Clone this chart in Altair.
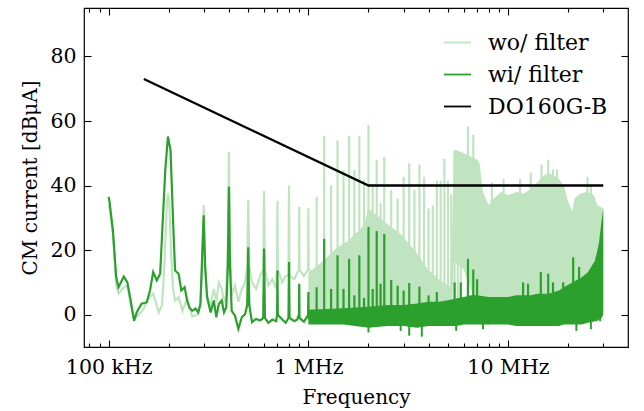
import altair as alt
import pandas as pd

FONT = "DejaVu Serif"
FS_LAB = 20.5
FS_TIT = 20
FS_LEG = 22
LIGHT = "#c0e3c0"
GREEN = "#2ca02c"

# ---- low-frequency traces (frequency in kHz, level in dBuA) ----
lo_f_wo = [100, 101, 105, 109, 112, 119, 124, 128, 134, 138, 145, 150, 155, 160, 167,
           172, 178, 185, 190, 195, 198, 201, 205, 210, 215, 224, 234, 247, 255, 262,
           278, 288, 294, 299, 304, 311, 324, 336, 346, 356, 368, 378, 388, 395, 400,
           405, 413, 429, 446, 464, 482, 494, 500, 506, 522, 547, 573, 594, 600, 606,
           630, 660, 690, 697, 700, 703, 740, 770, 795, 800, 805, 850, 880, 897, 900,
           903, 950, 997, 1000, 1003, 1050]
lo_v_wo = [34, 33, 25, 9, 6.5, 8.5, 9, 4, -1.5, -0.5, 0.7, 2, 4, 5.5, 6.5,
           4, 0.7, 3, 15, 33, 37.6, 35, 20, 8, 4.4, 5.4, 1.2, 5, 2, -0.6,
           0, 3, 15, 34, 15, 6, 3, 8, 4, 10, 8, 4, 6, 20, 50.5,
           20, 6, 9, 4, 8, 10, 15, 35.5, 15, 10, 8, 12, 14, 38.4, 14,
           9, 11, 8, 14, 35.3, 14, 10, 12, 12, 40, 12, 11, 13, 14, 33.4,
           14, 12, 14, 33, 14, 13]

lo_f_wi = [100, 101, 105, 109, 112, 119, 124, 128, 134, 138, 146, 155, 161, 167, 174,
           181, 192, 198, 204, 211, 215, 224, 231, 240, 247, 253, 262, 272, 281, 288,
           293, 299, 304, 311, 324, 336, 346, 356, 368, 378, 388, 395, 400, 405, 413,
           429, 446, 464, 482, 494, 500, 506, 522, 547, 573, 594, 600, 606, 630, 660,
           690, 697, 700, 703, 740, 770, 795, 800, 805, 850, 880, 897, 900, 903, 950,
           997, 1000, 1003, 1050]
lo_v_wi = [36.5, 34.9, 26, 11.6, 8.5, 11.8, 10, 5.4, -1.9, 0.7, 3.4, 3.8, 7.5, 13.2, 10.6,
           12.7, 44.8, 55.2, 51, 26, 13.7, 12.7, 7.5, 8.5, 4.4, 2.3, 1.2, 1.9, 0.7, 3.4,
           15.9, 30.8, 15, 5.4, 0.7, 4.4, -0.8, 3.3, 4.4, 0.7, 2.3, 15, 39.6, 15, 1.2,
           -0.3, -4.4, -0.8, 0.2, 3, 20.9, 3, -2.3, -1.3, -1.8, -1, 20.5, -1, -2.5, -1.5,
           -2, 0, 13.7, 0, -1.5, -2.5, -1, 16.3, -1, -2, -1.5, 0, 9.6, -1, -2.2,
           0, 7, -1, -2]

# ---- harmonic spikes above 1 MHz (MHz, peak dBuA) ----
sp_f_wo = [1.1, 1.2, 1.3, 1.4, 1.5, 1.6, 1.7, 1.8, 1.9, 2.0, 2.1, 2.2, 2.3, 2.4,
           2.6, 2.8, 3.0, 3.2, 3.4, 3.6, 3.8, 4.0, 4.2, 4.4, 4.6, 4.8, 5.0, 5.2,
           5.4, 5.6, 5.8, 6.3, 6.7, 7.2, 8.3, 9.5, 11.5, 13, 14.7, 15.9, 16.8, 17.6, 25, 26]
sp_v_wo = [36.5, 55.4, 40.1, 53.9, 44.8, 55.4, 44.8, 55.4, 41.7, 58.8, 39.6, 47.9, 34.5, 48.9,
           38.6, 36, 42.7, 46.9, 38.6, 46.5, 42.7, 32.9, 33.9, 41.5, 41.5, 48.4, 41.5, 37.3,
           51, 50, 49, 58.3, 55.7, 42.5, 41, 42, 42, 44, 46.5, 48, 45, 45, 42.7, 40]
sp_base_wo = -2

sp_f_wi = [1.1, 1.2, 1.3, 1.4, 1.5, 1.6, 1.7, 1.8, 1.9, 2.0, 2.1, 2.2, 2.3, 2.4,
           2.6, 2.8, 3.0, 3.2, 3.6, 4.0, 4.4, 5.4, 5.8, 6.3, 6.7, 7.0,
           11.9, 12.6, 14.6, 15.9, 16.8, 18.9, 21.2, 22.7, 23.8, 25.2, 26.8, 27.8, 28.9]
sp_v_wi = [8.5, 23.5, 8, 18.4, 8, 17.3, 6, 18.4, 5.2, 27.2, 8, 25.9, 9.6, 25,
           10.8, 9, 7.5, 9.8, 8.7, 6, 7, 10, 10, 17.3, 14, 11,
           10, 9.6, 13.2, 12.7, 10, 10, 17.8, 14.8, 9.8, 13, 12, 17.8, 21]
sp_base_wi = -2

dip_f_wi = [2.0, 2.9, 3.2, 3.7, 5.5, 7.5, 22, 26]
dip_v_wi = [-5.5, -5, -6.5, -6.8, -5, -4.5, -5, -4.5]
dip_top_wi = 0

# ---- dense bands (MHz, lower / upper envelope dBuA) ----
band_f_wo = [1.0, 1.1, 1.2, 1.3, 1.4, 1.5, 1.6, 1.7, 1.8, 1.9, 2.0, 2.5, 2.9, 3.5, 3.9,
             4.5, 5.2, 5.35, 5.5, 6.0, 6.5, 7.0, 7.2, 7.5, 8, 8.5, 9.2,
             10, 11, 12, 13, 14, 15, 16, 17, 18, 19, 20, 21, 21.5, 23, 25, 27, 28, 30]
band_lo_wo = [-2, -2, -2, -2, -2, -2, -2, -2, -2, -2, -2, -2, -2, -2, -2,
              -2, -2, 16, 16, 14, 8, 4, 2, 2, 2, 2, 2,
              2, 2, 2, 2, 2, 2, 2, 2, 2, 2, 2, 2, 2, 2, 2, 2, 2, 2]
band_hi_wo = [13, 15, 17, 19, 21, 22, 23, 25, 26, 28, 33, 28, 25, 19, 14.6,
              11, 8.5, 50, 51, 50, 49, 48, 47, 38, 34, 36, 38,
              37, 38, 37.5, 39, 41, 43, 44, 43, 42, 40, 35, 32, 36, 37.5, 38, 37, 34, 33]

band_f_wi = [1.0, 1.5, 2.0, 2.5, 3.0, 3.5, 4.0, 4.5, 5.0, 5.5, 6.0, 6.5, 7.0,
             8, 9, 10, 11, 12, 13, 14, 15, 16, 17, 18, 19, 21, 23.4, 25, 27.3, 28.5, 29.4, 30]
band_lo_wi = [-3, -3, -4, -3.5, -3.5, -4, -3.5, -3.5, -3.5, -3.5, -3, -3, -3,
              -3, -3, -3, -3.5, -3.5, -3.5, -3.5, -3.5, -3.5, -3.5, -3.5, -3, -3, -3, -2.5,
              -2, -1.5, -1, 0]
band_hi_wi = [1.5, 2, 2.5, 3, 3, 3.5, 4, 4, 4.5, 5, 5.5, 6, 6,
              5.5, 5.5, 5.5, 6, 6, 6, 6.5, 6.5, 6.5, 7, 7.5, 8.5, 10, 11.6, 13, 16.8, 22, 29, 33]

# ---- DO160G category B limit (MHz, dBuA) ----
lim_f = [0.15, 2.0, 30.0]
lim_v = [73, 40, 40]

series_names = ["wo/ filter", "wi/ filter", "DO160G-B"]
x_major = [1e5, 1e6, 1e7]
x_minor = [8e4, 9e4, 2e5, 3e5, 4e5, 5e5, 6e5, 7e5, 8e5, 9e5,
           2e6, 3e6, 4e6, 5e6, 6e6, 7e6, 8e6, 9e6, 2e7, 3e7]
y_major = [0, 20, 40, 60, 80]

# ---- tables ----
d_lo_wo = pd.DataFrame({"f": [v * 1e3 for v in lo_f_wo], "v": lo_v_wo, "s": series_names[0]})
d_lo_wi = pd.DataFrame({"f": [v * 1e3 for v in lo_f_wi], "v": lo_v_wi, "s": series_names[1]})
d_sp_wo = pd.DataFrame({"f": [v * 1e6 for v in sp_f_wo], "t": sp_v_wo, "b": sp_base_wo})
d_sp_wi = pd.DataFrame({"f": [v * 1e6 for v in sp_f_wi], "t": sp_v_wi, "b": sp_base_wi})
d_dip_wi = pd.DataFrame({"f": [v * 1e6 for v in dip_f_wi], "t": dip_top_wi, "b": dip_v_wi})
d_bd_wo = pd.DataFrame({"f": [v * 1e6 for v in band_f_wo], "lo": band_lo_wo, "hi": band_hi_wo})
d_bd_wi = pd.DataFrame({"f": [v * 1e6 for v in band_f_wi], "lo": band_lo_wi, "hi": band_hi_wi})
d_lim = pd.DataFrame({"f": [v * 1e6 for v in lim_f], "v": lim_v, "s": series_names[2]})

xscale = alt.Scale(type="log", domain=[75200, 39900000], nice=False)
yscale = alt.Scale(domain=[-10, 95], nice=False, zero=False)
cscale = alt.Scale(domain=series_names, range=[LIGHT, GREEN, "black"])

lab = dict(tickColor="black", tickWidth=1.1, grid=False, domain=False)
label_expr = "datum.value < 5e5 ? '100 kHz' : (datum.value < 5e6 ? '1 MHz' : '10 MHz')"

ax_xb = alt.Axis(orient="bottom", values=x_major, labelExpr=label_expr, tickSize=7, offset=-7,
                 labelPadding=10, title="Frequency", titlePadding=10, **lab)
ax_xbm = alt.Axis(orient="bottom", values=x_minor, tickSize=4, offset=-4, labels=False,
                  title=None, **lab)
ax_xt = alt.Axis(orient="top", values=x_major, tickSize=7, offset=-7, labels=False,
                 title=None, **lab)
ax_xtm = alt.Axis(orient="top", values=x_minor, tickSize=4, offset=-4, labels=False,
                  title=None, **lab)
ax_yl = alt.Axis(orient="left", values=y_major, tickSize=7, offset=-7, labelPadding=8,
                 title="CM current [dBμA]", titlePadding=9, **lab)
ax_yr = alt.Axis(orient="right", values=y_major, tickSize=7, offset=-7, labels=False,
                 title=None, **lab)

legend = alt.Legend(title=None, orient="none", legendX=359, legendY=20)
color = alt.Color("s:N", scale=cscale, legend=legend)


def X(axis):
    return alt.X("f:Q", scale=xscale, axis=axis)


light_line = alt.Chart(d_lo_wo).mark_line(strokeWidth=2.2).encode(
    x=X(ax_xb), y=alt.Y("v:Q", scale=yscale, axis=ax_yl), color=color)
light_band = alt.Chart(d_bd_wo).mark_area(color=LIGHT).encode(
    x=X(ax_xbm), y=alt.Y("lo:Q", scale=yscale, axis=ax_yr), y2="hi:Q")
light_spk = alt.Chart(d_sp_wo).mark_rule(color=LIGHT, strokeWidth=2.2).encode(
    x=X(ax_xt), y=alt.Y("b:Q", scale=yscale, axis=None), y2="t:Q")
dark_line = alt.Chart(d_lo_wi).mark_line(strokeWidth=2.2).encode(
    x=X(ax_xtm), y=alt.Y("v:Q", scale=yscale, axis=None), color=color)
dark_band = alt.Chart(d_bd_wi).mark_area(color=GREEN).encode(
    x=X(None), y=alt.Y("lo:Q", scale=yscale, axis=None), y2="hi:Q")
dark_spk = alt.Chart(d_sp_wi).mark_rule(color=GREEN, strokeWidth=2.2).encode(
    x=X(None), y=alt.Y("b:Q", scale=yscale, axis=None), y2="t:Q")
dark_dip = alt.Chart(d_dip_wi).mark_rule(color=GREEN, strokeWidth=2).encode(
    x=X(None), y=alt.Y("b:Q", scale=yscale, axis=None), y2="t:Q")
limit = alt.Chart(d_lim).mark_line(strokeWidth=2.4).encode(
    x=X(None), y=alt.Y("v:Q", scale=yscale, axis=None), color=color)

chart = alt.layer(light_line, light_band, light_spk, dark_line, dark_band, dark_spk,
                  dark_dip, limit).resolve_axis(x="independent", y="independent").properties(
    width=544, height=339,
    padding={"left": 84, "top": 8, "right": 16, "bottom": 64},
    autosize=alt.AutoSizeParams(type="none"),
    background="white",
).configure_view(stroke="black", strokeWidth=1.2).configure_axis(
    labelFont=FONT, labelFontSize=FS_LAB, labelColor="black",
    titleFont=FONT, titleFontSize=FS_TIT, titleFontWeight="normal", titleColor="black",
).configure_legend(
    symbolType="stroke", symbolSize=729, symbolStrokeWidth=1.8,
    labelFont=FONT, labelFontSize=FS_LEG, labelColor="black",
    labelOffset=16, rowPadding=6, padding=0,
)

chart.save("out.html", embed_options={"renderer": "svg", "actions": False})
